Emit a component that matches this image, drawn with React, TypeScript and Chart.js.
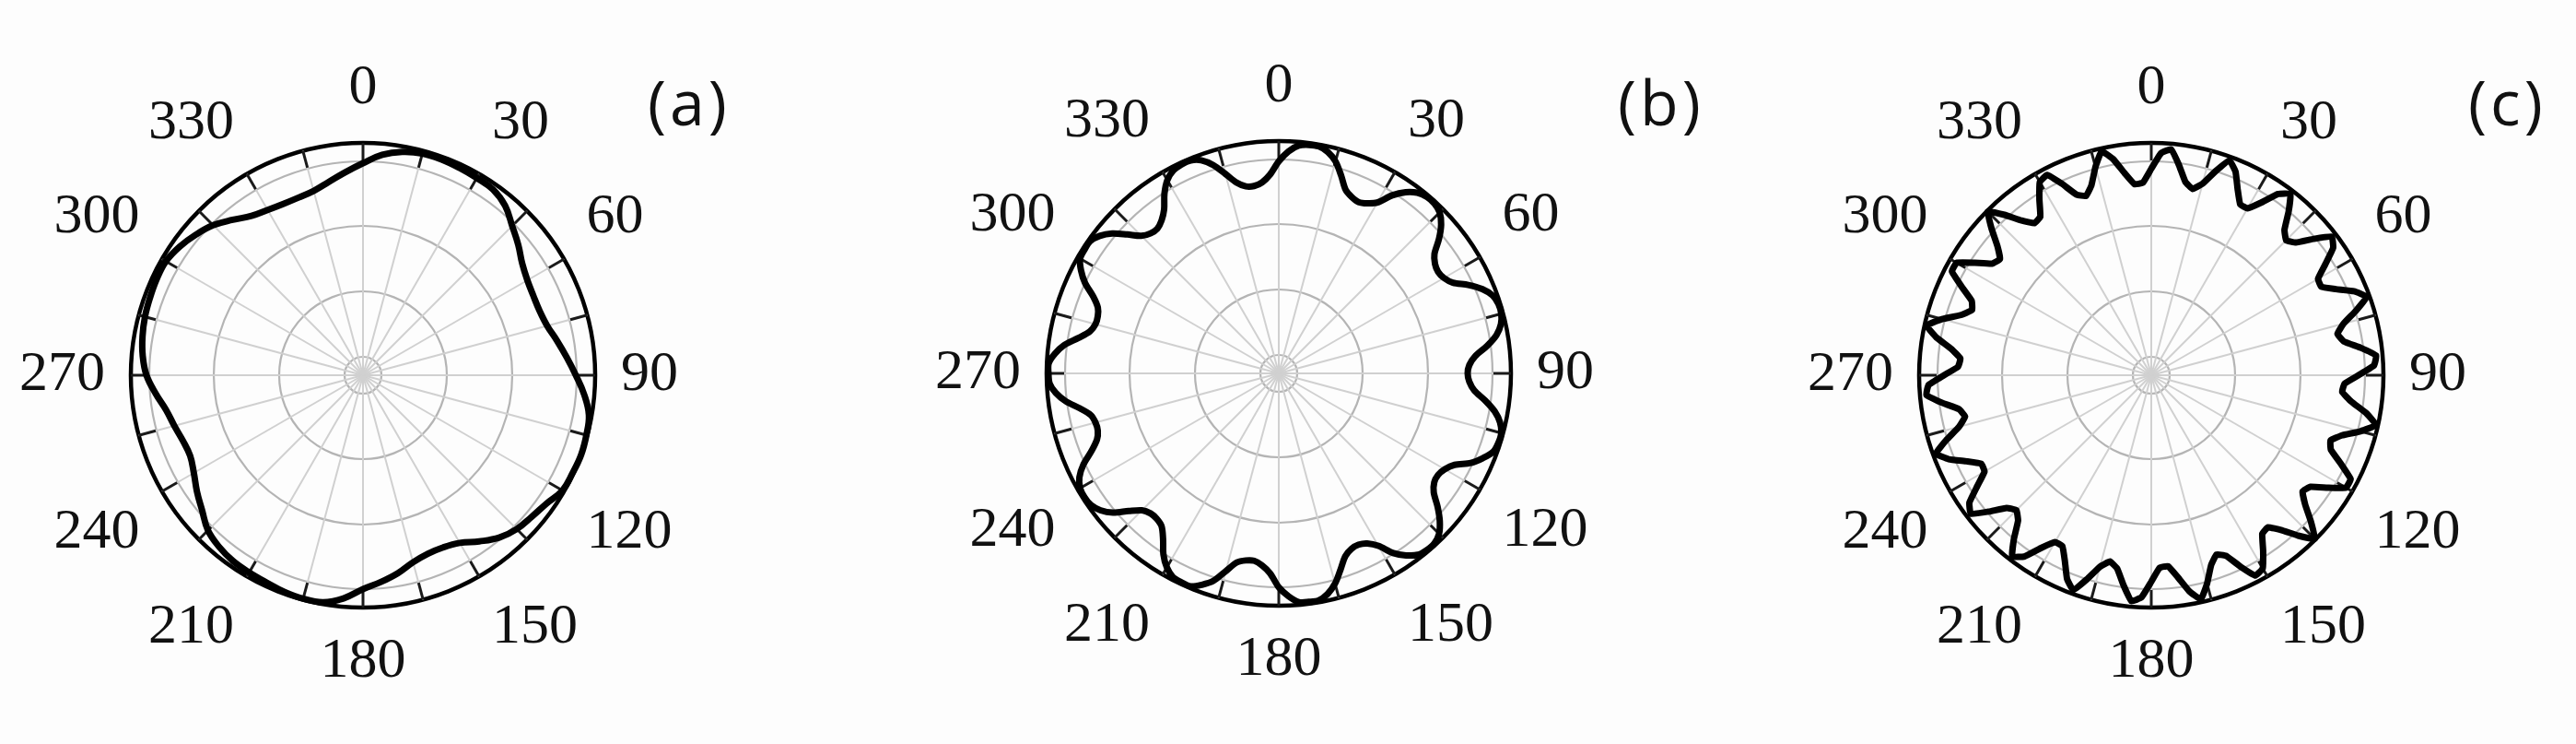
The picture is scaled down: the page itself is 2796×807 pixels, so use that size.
import React, { useEffect, useRef } from 'react';
import { Chart, registerables } from 'chart.js';

Chart.register(...registerables);

// ---- tick labels / scale values ----
const ANGLE_TICKS = ['0', '30', '60', '90', '120', '150', '180', '210', '240', '270', '300', '330'];
const RING_VALUES = [0, 20, 91, 162, 232, 252];
const RADIUS_MAX = 252;
const RIM_TICK_INNER = 233;
const PANEL_NAMES = ['(a)', '(b)', '(c)'];

// ---- series (radius), step 5 deg, from 0 clockwise ----
const A_VALUES = [
  230, 240, 246, 249, 249, 248,
  247, 246, 240, 229, 220, 211,
  206, 204, 204, 207, 214, 222,
  231, 241, 249, 251, 252, 251,
  250, 243, 239, 236, 230, 220,
  210, 206, 206, 210, 218, 225,
  232, 243, 250, 251, 250, 248,
  247, 246, 243, 238, 228, 220,
  212, 207, 208, 212, 217, 226,
  235, 240, 243, 245, 246, 247,
  247, 243, 237, 230, 220, 211,
  207, 205, 205, 207, 213, 221,
];

// step 2.5 deg
const B_VALUES = [
  230, 241, 248, 250, 250, 246, 238, 225, 212, 207, 205, 208,
  214, 229, 240, 247, 250, 250, 247, 239, 227, 213, 207, 205,
  207, 213, 227, 239, 247, 250, 250, 247, 240, 228, 214, 207,
  205, 207, 213, 226, 238, 246, 250, 250, 248, 240, 230, 215,
  208, 205, 206, 212, 225, 237, 246, 250, 250, 248, 241, 231,
  216, 208, 205, 206, 211, 223, 236, 245, 250, 250, 249, 242,
  232, 217, 209, 205, 206, 210, 222, 236, 244, 250, 250, 249,
  243, 233, 219, 209, 206, 206, 210, 221, 235, 244, 249, 250,
  249, 244, 234, 220, 210, 206, 206, 209, 219, 233, 243, 249,
  250, 250, 244, 235, 221, 210, 206, 206, 209, 218, 232, 242,
  249, 250, 250, 245, 236, 223, 211, 206, 205, 209, 217, 231,
  242, 248, 250, 250, 246, 237, 224, 212, 206, 205, 208, 216,
];

// step 2.5 deg
const C_VALUES = [
  224, 241, 246, 230, 213, 207, 215, 232, 248, 239, 222, 209,
  209, 222, 240, 248, 232, 214, 207, 213, 230, 247, 241, 224,
  209, 208, 221, 238, 249, 233, 216, 207, 212, 229, 245, 242,
  225, 210, 208, 219, 237, 250, 235, 217, 207, 211, 227, 244,
  244, 227, 211, 207, 218, 235, 251, 236, 219, 208, 210, 226,
  242, 245, 229, 212, 207, 216, 234, 249, 238, 221, 208, 209,
  224, 241, 246, 230, 213, 207, 215, 232, 248, 239, 222, 209,
  209, 222, 240, 248, 232, 214, 207, 213, 230, 247, 241, 224,
  209, 208, 221, 238, 249, 233, 216, 207, 212, 229, 245, 242,
  225, 210, 208, 219, 237, 250, 235, 217, 207, 211, 227, 244,
  244, 227, 211, 207, 218, 235, 251, 236, 219, 208, 210, 226,
  242, 245, 229, 212, 207, 216, 234, 249, 238, 221, 208, 209,
];

function buildLabels(n: number): string[] {
  const step = 360 / n;
  const out: string[] = [];
  for (let i = 0; i < n; i++) {
    const a = i * step;
    const k = Math.round(a / 30);
    out.push(Math.abs(a - k * 30) < 1e-6 ? ANGLE_TICKS[k % ANGLE_TICKS.length] : '');
  }
  return out;
}

function isSpoke(i: number, n: number): boolean {
  const a = (i * 360) / n;
  return Math.abs(a - Math.round(a / 15) * 15) < 1e-6;
}

const rimTicks = {
  id: 'rimTicks',
  beforeDatasetsDraw(chart: any) {
    const s = chart.scales.r;
    const ctx = chart.ctx;
    const n = chart.data.labels.length;
    ctx.save();
    ctx.strokeStyle = '#1a1a1a';
    ctx.lineWidth = 3;
    for (let i = 0; i < n; i++) {
      if (!isSpoke(i, n)) continue;
      const p1 = s.getPointPositionForValue(i, RIM_TICK_INNER);
      const p2 = s.getPointPositionForValue(i, RADIUS_MAX);
      ctx.beginPath();
      ctx.moveTo(p1.x, p1.y);
      ctx.lineTo(p2.x, p2.y);
      ctx.stroke();
    }
    ctx.restore();
  },
};

const CW = 930;
const CH = 684;

function PolarPanel(props: { values: number[]; tension: number; cx: number; cy: number }) {
  const ref = useRef<HTMLCanvasElement | null>(null);
  useEffect(() => {
    if (!ref.current) return;
    const n = props.values.length;
    const chart = new Chart(ref.current, {
      type: 'radar',
      data: {
        labels: buildLabels(n),
        datasets: [
          {
            data: props.values,
            borderColor: '#000',
            borderWidth: 7,
            pointRadius: 0,
            pointHoverRadius: 0,
            fill: false,
            tension: props.tension,
            borderJoinStyle: 'round',
          } as any,
        ],
      },
      options: {
        responsive: false,
        animation: false,
        events: [],
        layout: { padding: 0 },
        plugins: { legend: { display: false }, tooltip: { enabled: false } },
        scales: {
          r: {
            min: 0,
            max: RADIUS_MAX,
            startAngle: 0,
            ticks: { display: false },
            afterBuildTicks: (scale: any) => {
              scale.ticks = RING_VALUES.map((v) => ({ value: v }));
            },
            grid: {
              circular: true,
              color: (c: any) => (c.tick && c.tick.value === RADIUS_MAX ? '#000' : '#b4b4b4'),
              lineWidth: (c: any) => (c.tick && c.tick.value === RADIUS_MAX ? 4.5 : 2.2),
            },
            angleLines: {
              color: '#d0d0d0',
              lineWidth: (c: any) => (isSpoke(c.index, n) ? 2 : 0),
            },
            pointLabels: {
              display: true,
              padding: 28,
              color: '#111',
              font: { family: '"Liberation Serif", "DejaVu Serif", serif', size: 62, lineHeight: 1 },
            },
          } as any,
        },
      },
      plugins: [rimTicks],
    });
    return () => chart.destroy();
  }, []);
  return (
    <canvas
      ref={ref}
      width={CW}
      height={CH}
      style={{ position: 'absolute', left: props.cx - CW / 2, top: props.cy - CH / 2, width: CW, height: CH }}
    />
  );
}

const labelStyle: React.CSSProperties = {
  position: 'absolute',
  top: 76,
  fontFamily: '"Open Sans", sans-serif',
  fontSize: 68,
  lineHeight: 1,
  letterSpacing: 4,
  color: '#111',
  whiteSpace: 'nowrap',
};

export default function App() {
  return (
    <div
      style={{
        position: 'absolute',
        left: 0,
        top: 0,
        width: 2796,
        height: 807,
        overflow: 'hidden',
        background: '#fdfdfd',
      }}
    >
      <PolarPanel values={A_VALUES} tension={0.4} cx={394} cy={407} />
      <PolarPanel values={B_VALUES} tension={0.3} cx={1388} cy={405} />
      <PolarPanel values={C_VALUES} tension={0.1} cx={2335} cy={407} />
      <div style={{ ...labelStyle, left: 703 }}>{PANEL_NAMES[0]}</div>
      <div style={{ ...labelStyle, left: 1756 }}>{PANEL_NAMES[1]}</div>
      <div style={{ ...labelStyle, left: 2679 }}>{PANEL_NAMES[2]}</div>
    </div>
  );
}
